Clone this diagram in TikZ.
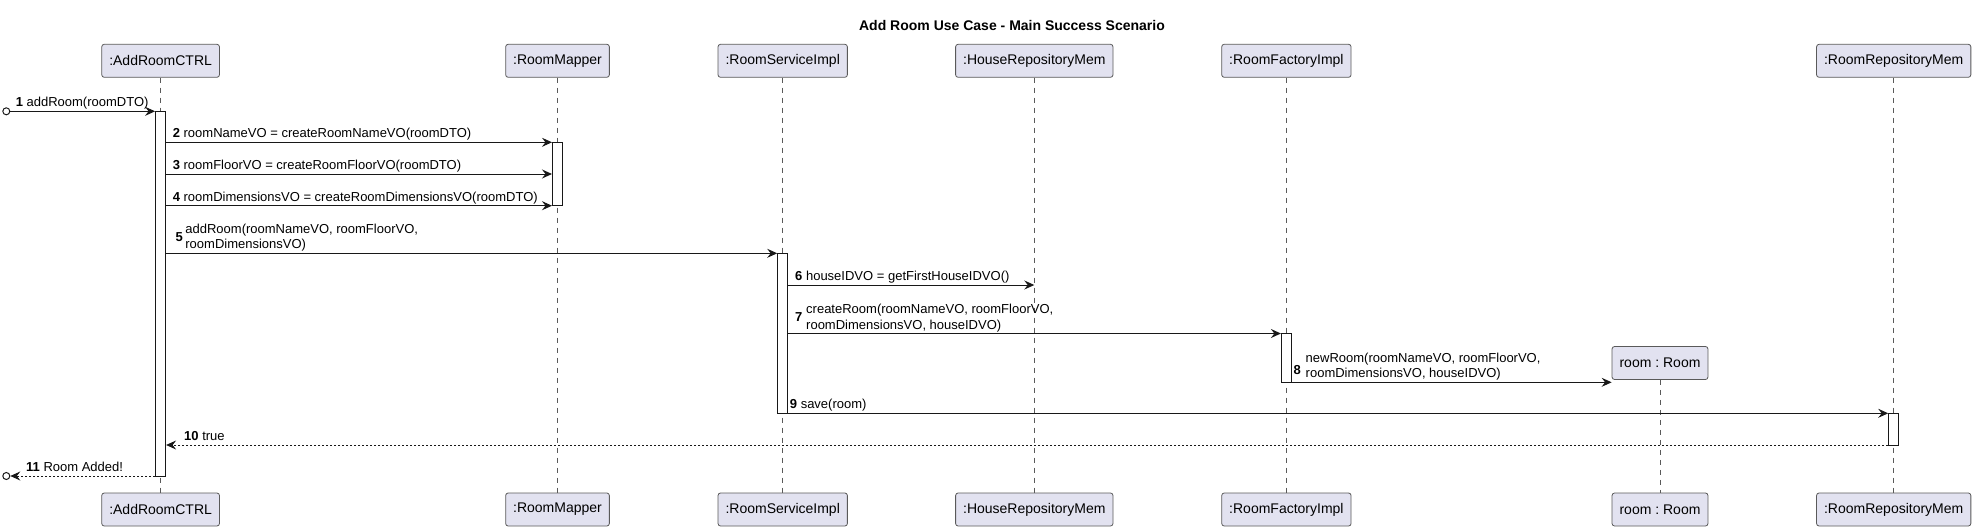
\documentclass[tikz,border=0pt]{standalone}
\usepackage{fontspec}
\setmainfont{Liberation Sans}
\usetikzlibrary{arrows.meta}
\definecolor{partfill}{HTML}{E2E2F0}
\definecolor{ink}{HTML}{181818}
\definecolor{partline}{HTML}{5A5A5A}
\begin{document}
\frenchspacing
\begin{tikzpicture}[x=1pt,y=-1pt,
  part/.style={draw=partline, line width=0.8pt, fill=partfill, rounded corners=2.5pt,
    minimum height=33pt, inner xsep=7.5pt, inner ysep=0pt, font=\fontsize{14}{16}\selectfont},
  life/.style={draw=partline, line width=0.6pt, dash pattern=on 5pt off 5pt},
  act/.style={draw=ink, fill=white, line width=1pt, minimum width=10pt, inner sep=0pt},
  msg/.style={draw=ink, line width=1pt, -{Stealth[length=10pt,width=9pt,inset=3.5pt]}},
  ret/.style={msg, dash pattern=on 2pt off 2pt},
  lab/.style={anchor=base west, inner sep=0pt, font=\fontsize{13}{15.5}\selectfont, text=black},
  num/.style={lab, font=\fontsize{13}{15.5}\selectfont\bfseries},
  endpt/.style={circle, draw=ink, line width=1pt, fill=white, minimum size=7pt, inner sep=0pt},
  ttl/.style={font=\fontsize{14}{16}\selectfont\bfseries, inner sep=0pt}
]
\useasboundingbox (0,0) rectangle (1975,530);

\node[ttl] (title) at (1012,25) {Add Room Use Case - Main Success Scenario};

% participants top
\node[part] (ctrlT)  at (160.6,60.8)  {:AddRoomCTRL};
\node[part] (mapT)   at (557.5,60.8)  {:RoomMapper};
\node[part] (svcT)   at (782.7,60.8)  {:RoomServiceImpl};
\node[part] (houseT) at (1034.3,60.8) {:HouseRepositoryMem};
\node[part] (facT)   at (1286.4,60.8) {:RoomFactoryImpl};
\node[part] (roomT)  at (1660,363)    {room : Room};
\node[part] (repoT)  at (1893.7,60.8) {:RoomRepositoryMem};
% participants bottom
\node[part] (ctrlB)  at (160.6,509.5)  {:AddRoomCTRL};
\node[part] (mapB)   at (557.5,509.5)  {:RoomMapper};
\node[part] (svcB)   at (782.7,509.5)  {:RoomServiceImpl};
\node[part] (houseB) at (1034.3,509.5) {:HouseRepositoryMem};
\node[part] (facB)   at (1286.4,509.5) {:RoomFactoryImpl};
\node[part] (roomB)  at (1660,509.5)   {room : Room};
\node[part] (repoB)  at (1893.7,509.5) {:RoomRepositoryMem};

% lifelines
\draw[life] (ctrlT.south) -- (ctrlB.north);
\draw[life] (mapT.south) -- (mapB.north);
\draw[life] (svcT.south) -- (svcB.north);
\draw[life] (houseT.south) -- (houseB.north);
\draw[life] (facT.south) -- (facB.north);
\draw[life] (roomT.south) -- (roomB.north);
\draw[life] (repoT.south) -- (repoB.north);

% activation bars
\node[act, minimum height=364.7pt] (aCTRL) at (160.6,293.65) {};
\node[act, minimum height=63.4pt]  (aMAP)  at (557.5,174) {};
\node[act, minimum height=160pt]   (aSVC)  at (782.7,333.3) {};
\node[act, minimum height=48.8pt]  (aFAC)  at (1286.4,357.9) {};
\node[act, minimum height=31.7pt]  (aREPO) at (1893.7,429.15) {};

% message rows
\coordinate (m1) at (0,111.3);
\coordinate (m2) at (0,142.3);
\coordinate (m3) at (0,174);
\coordinate (m4) at (0,205.7);
\coordinate (m5) at (0,253.3);
\coordinate (m6) at (0,285);
\coordinate (m7) at (0,333.5);
\coordinate (m8) at (0,382.3);
\coordinate (m9) at (0,413.3);
\coordinate (m10) at (0,445);
\coordinate (m11) at (0,476);

% found / lost endpoints
\node[endpt] (start) at (6.3,111.3) {};
\node[endpt] (stop)  at (6.3,476) {};

% messages
\draw[msg] (start.east) -- (aCTRL.west |- m1);
\draw[msg] (aCTRL.east |- m2) -- (aMAP.west |- m2);
\draw[msg] (aCTRL.east |- m3) -- (aMAP.west |- m3);
\draw[msg] (aCTRL.east |- m4) -- (aMAP.west |- m4);
\draw[msg] (aCTRL.east |- m5) -- (aSVC.west |- m5);
\draw[msg] (aSVC.east |- m6) -- (houseT.center |- m6);
\draw[msg] (aSVC.east |- m7) -- (aFAC.west |- m7);
\draw[msg] (aFAC.east |- m8) -- (roomT.west |- m8);
\draw[msg] (aSVC.east |- m9) -- (aREPO.west |- m9);
\draw[ret] (aREPO.west |- m10) -- (aCTRL.east |- m10);
\draw[ret] (aCTRL.west |- m11) -- (stop.east);

% labels
\node[lab] (l1) at (15.6,106.8) {\textbf{1} addRoom(roomDTO)};
\node[lab] (l2) at (172.6,137.8) {\textbf{2} roomNameVO = createRoomNameVO(roomDTO)};
\node[lab] (l3) at (172.6,169.5) {\textbf{3} roomFloorVO = createRoomFloorVO(roomDTO)};
\node[lab] (l4) at (172.6,201.2) {\textbf{4} roomDimensionsVO = createRoomDimensionsVO(roomDTO)};
\node[num] (n5) at (175.5,241.3) {5};
\node[lab] (l5a) at (185.2,233.3) {addRoom(roomNameVO, roomFloorVO,};
\node[lab] (l5b) at (185.2,248.8) {roomDimensionsVO)};
\node[lab] (l6) at (795,280.5) {\textbf{6} houseIDVO = getFirstHouseIDVO()};
\node[num] (n7) at (795,321.5) {7};
\node[lab] (l7a) at (806,313.5) {createRoom(roomNameVO, roomFloorVO,};
\node[lab] (l7b) at (806,329) {roomDimensionsVO, houseIDVO)};
\node[num] (n8) at (1293.5,374) {8};
\node[lab] (l8a) at (1305.5,362.3) {newRoom(roomNameVO, roomFloorVO,};
\node[lab] (l8b) at (1305.5,377.8) {roomDimensionsVO, houseIDVO)};
\node[lab] (l9) at (789.7,408.8) {\textbf{9} save(room)};
\node[lab] (l10) at (184,440.5) {\textbf{10} true};
\node[lab] (l11) at (26,471.5) {\textbf{11} Room Added!};
\end{tikzpicture}
\end{document}
